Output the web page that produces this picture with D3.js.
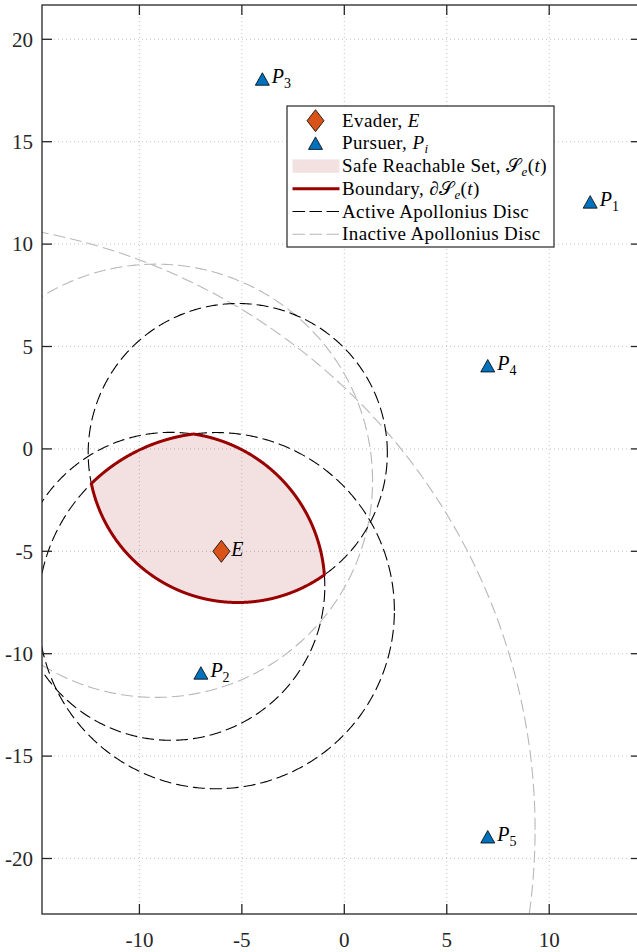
<!DOCTYPE html>
<html>
<head>
<meta charset="utf-8">
<script src="https://cdn.jsdelivr.net/npm/d3@7"></script>
<style>
html,body{margin:0;padding:0;background:#fff;}
svg{display:block;}
</style>
</head>
<body>
<div id="chart"></div>
<script>
// ---------- data ----------
const xTicks = [-10, -5, 0, 5, 10];
const yTicks = [-20, -15, -10, -5, 0, 5, 10, 15, 20];
const evaderX = -6, evaderY = -5;
const pursuerIdx = ["1", "2", "3", "4", "5"];
const pursuerX = [12, -7, -4, 7, 7];
const pursuerY = [12, -11, 18, 4, -19];
// Apollonius discs (one per pursuer)
const discCx = [-20.4, -5.2, -6.252, -8.47, -9.198];
const discCy = [-18.6, -0.2, -7.898, -6.71, -1.556];
const discR = [29.71, 7.30, 8.696, 7.518, 10.577];
const discActive = [false, true, true, true, false];

// ---------- layout ----------
const FONT = "'Liberation Serif', 'Times New Roman', Times, 'DejaVu Serif', serif";
const W = 637, H = 952;
const L = 42, R = 641, T = 5, B = 914;
const x = d3.scaleLinear().domain([-14.754, 14.48]).range([L, R]);
const y = d3.scaleLinear().domain([21.675, -22.71]).range([T, B]);

const svg = d3.select("#chart").append("svg").attr("width", W).attr("height", H)
  .attr("font-family", FONT).style("font-family", FONT);
svg.append("defs").append("clipPath").attr("id", "clip")
  .append("rect").attr("x", L).attr("y", T).attr("width", R - L).attr("height", B - T);

// grid
const grid = svg.append("g");
grid.selectAll(".gx").data(xTicks).enter().append("line")
  .attr("x1", d => x(d)).attr("x2", d => x(d)).attr("y1", T).attr("y2", B)
  .attr("stroke", "#c4c4c4").attr("stroke-width", 1).attr("stroke-dasharray", "1,3");
grid.selectAll(".gy").data(yTicks).enter().append("line")
  .attr("y1", d => y(d)).attr("y2", d => y(d)).attr("x1", L).attr("x2", R)
  .attr("stroke", "#c4c4c4").attr("stroke-width", 1).attr("stroke-dasharray", "1,3");

const plot = svg.append("g").attr("clip-path", "url(#clip)");

// safe reachable set = intersection of active discs (ray casting from evader)
const safePts = [];
const N = 1440;
for (let i = 0; i <= N; i++) {
  const a = 2 * Math.PI * i / N;
  const ux = Math.cos(a), uy = Math.sin(a);
  let tMin = Infinity;
  discCx.forEach((cx, j) => {
    if (!discActive[j]) return;
    const ox = evaderX - cx, oy = evaderY - discCy[j];
    const b = ox * ux + oy * uy;
    const c = ox * ox + oy * oy - discR[j] * discR[j];
    const t = -b + Math.sqrt(b * b - c);
    if (t < tMin) tMin = t;
  });
  safePts.push([evaderX + tMin * ux, evaderY + tMin * uy]);
}
const line = d3.line().x(d => x(d[0])).y(d => y(d[1]));
plot.append("path").attr("d", line(safePts) + "Z")
  .attr("fill", "#990000").attr("fill-opacity", 0.12).attr("stroke", "none");

// circles
function circlePts(cx, cy, r) {
  const pts = [];
  for (let i = 0; i <= 720; i++) {
    const a = 2 * Math.PI * i / 720;
    pts.push([cx + r * Math.cos(a), cy + r * Math.sin(a)]);
  }
  return pts;
}
const order = [0, 4, 1, 2, 3];
order.forEach(j => {
  plot.append("path").attr("d", line(circlePts(discCx[j], discCy[j], discR[j])))
    .attr("fill", "none")
    .attr("stroke", discActive[j] ? "#000" : "#b8b8b8")
    .attr("stroke-width", 1.1)
    .attr("stroke-dasharray", "12,5");
});

// boundary
plot.append("path").attr("d", line(safePts) + "Z")
  .attr("fill", "none").attr("stroke", "#990000").attr("stroke-width", 3)
  .attr("stroke-linejoin", "miter");

// markers
const diamond = "M0,-11L8.5,0L0,11L-8.5,0Z";
const tri = "M0,-7.5L7,5L-7,5Z";
plot.append("path").attr("d", diamond)
  .attr("transform", `translate(${x(evaderX)},${y(evaderY)})`)
  .attr("fill", "#D95319").attr("stroke", "#000").attr("stroke-width", 0.8);
svg.append("text").attr("x", x(evaderX) + 10).attr("y", y(evaderY) + 5)
  .attr("font-size", 20).attr("font-style", "italic").text("E");

pursuerX.forEach((px, i) => {
  plot.append("path").attr("d", tri)
    .attr("transform", `translate(${x(px)},${y(pursuerY[i])})`)
    .attr("fill", "#0072BD").attr("stroke", "#000").attr("stroke-width", 0.8);
  const t = svg.append("text").attr("x", x(px) + 9.5).attr("y", y(pursuerY[i]) + 3)
    .attr("font-size", 20);
  t.append("tspan").attr("font-style", "italic").text("P");
  t.append("tspan").attr("font-size", 14).attr("dy", 5).text(pursuerIdx[i]);
});

// axes box
const ax = svg.append("g");
ax.append("rect").attr("x", L).attr("y", T).attr("width", R - L).attr("height", B - T)
  .attr("fill", "none").attr("stroke", "#262626").attr("stroke-width", 1.3);
const TL = 10;
xTicks.forEach(v => {
  ax.append("line").attr("x1", x(v)).attr("x2", x(v)).attr("y1", B).attr("y2", B - TL)
    .attr("stroke", "#262626").attr("stroke-width", 1.3);
  ax.append("line").attr("x1", x(v)).attr("x2", x(v)).attr("y1", T).attr("y2", T + TL)
    .attr("stroke", "#262626").attr("stroke-width", 1.3);
  ax.append("text").attr("x", x(v)).attr("y", 947).attr("text-anchor", "middle")
    .attr("font-size", 21).attr("fill", "#262626").text(String(v));
});
yTicks.forEach(v => {
  ax.append("line").attr("y1", y(v)).attr("y2", y(v)).attr("x1", L).attr("x2", L + TL)
    .attr("stroke", "#262626").attr("stroke-width", 1.3);
  ax.append("line").attr("y1", y(v)).attr("y2", y(v)).attr("x1", R).attr("x2", R - TL)
    .attr("stroke", "#262626").attr("stroke-width", 1.3);
  ax.append("text").attr("x", 33).attr("y", y(v) + 7.3).attr("text-anchor", "end")
    .attr("font-size", 21).attr("fill", "#262626").text(String(v));
});

// legend
const lg = svg.append("g");
const lx = 287, ly = 106, lw = 267, lh = 141;
lg.append("rect").attr("x", lx).attr("y", ly).attr("width", lw).attr("height", lh)
  .attr("fill", "#fff").attr("stroke", "#262626").attr("stroke-width", 1.2);
const rowY = i => 120.7 + i * 22.7;
const ix0 = 292.5, ix1 = 339.5, icx = 315.5, tx = 342;
lg.append("path").attr("d", diamond).attr("transform", `translate(${icx},${rowY(0)})`)
  .attr("fill", "#D95319").attr("stroke", "#000").attr("stroke-width", 0.8);
lg.append("path").attr("d", tri).attr("transform", `translate(${icx},${rowY(1) + 1})`)
  .attr("fill", "#0072BD").attr("stroke", "#000").attr("stroke-width", 0.8);
lg.append("rect").attr("x", ix0).attr("y", rowY(2) - 6.7).attr("width", ix1 - ix0).attr("height", 13.4)
  .attr("fill", "#990000").attr("fill-opacity", 0.12);
lg.append("line").attr("x1", ix0).attr("x2", ix1).attr("y1", rowY(3)).attr("y2", rowY(3))
  .attr("stroke", "#990000").attr("stroke-width", 3);
lg.append("line").attr("x1", ix0).attr("x2", ix1).attr("y1", rowY(4)).attr("y2", rowY(4))
  .attr("stroke", "#000").attr("stroke-width", 1.1).attr("stroke-dasharray", "12.5,4.5");
lg.append("line").attr("x1", ix0).attr("x2", ix1).attr("y1", rowY(5)).attr("y2", rowY(5))
  .attr("stroke", "#b8b8b8").attr("stroke-width", 1.1).attr("stroke-dasharray", "12.5,4.5");

function legText(i) {
  return lg.append("text").attr("x", tx).attr("y", rowY(i) + 6).attr("font-size", 19)
    .attr("letter-spacing", 0.4);
}
let t0 = legText(0); t0.append("tspan").text("Evader, "); t0.append("tspan").attr("font-style", "italic").text("E");
let t1 = legText(1); t1.append("tspan").text("Pursuer, "); t1.append("tspan").attr("font-style", "italic").text("P");
t1.append("tspan").attr("font-style", "italic").attr("font-size", 13).attr("dy", 4).text("i");
let t2 = legText(2); t2.append("tspan").text("Safe Reachable Set, ");
t2.append("tspan").text("𝒮");
t2.append("tspan").attr("font-style", "italic").attr("font-size", 13).attr("dy", 4).text("e");
t2.append("tspan").attr("dy", -4).text("(");
t2.append("tspan").attr("font-style", "italic").text("t");
t2.append("tspan").text(")");
let t3 = legText(3); t3.append("tspan").text("Boundary, ");
t3.append("tspan").text("∂𝒮");
t3.append("tspan").attr("font-style", "italic").attr("font-size", 13).attr("dy", 4).text("e");
t3.append("tspan").attr("dy", -4).text("(");
t3.append("tspan").attr("font-style", "italic").text("t");
t3.append("tspan").text(")");
legText(4).text("Active Apollonius Disc");
legText(5).text("Inactive Apollonius Disc");
</script>
</body>
</html>
